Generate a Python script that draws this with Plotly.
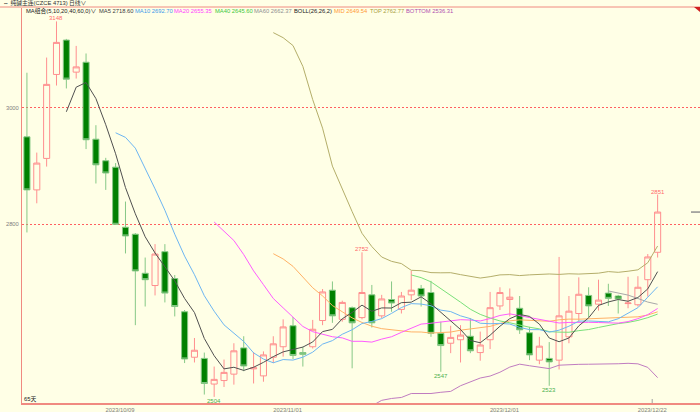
import numpy as np
import pandas as pd
import plotly.graph_objects as go

# ---------------- data ----------------
dates = [
    "2023/09/15", "2023/09/18", "2023/09/19", "2023/09/20", "2023/09/21", "2023/09/22",
    "2023/09/25", "2023/09/26", "2023/09/27", "2023/09/28",
    "2023/10/09", "2023/10/10", "2023/10/11", "2023/10/12", "2023/10/13", "2023/10/16",
    "2023/10/17", "2023/10/18", "2023/10/19", "2023/10/20", "2023/10/23", "2023/10/24",
    "2023/10/25", "2023/10/26", "2023/10/27", "2023/10/30", "2023/10/31",
    "2023/11/01", "2023/11/02", "2023/11/03", "2023/11/06", "2023/11/07", "2023/11/08",
    "2023/11/09", "2023/11/10", "2023/11/13", "2023/11/14", "2023/11/15", "2023/11/16",
    "2023/11/17", "2023/11/20", "2023/11/21", "2023/11/22", "2023/11/23", "2023/11/24",
    "2023/11/27", "2023/11/28", "2023/11/29", "2023/11/30",
    "2023/12/01", "2023/12/04", "2023/12/05", "2023/12/06", "2023/12/07", "2023/12/08",
    "2023/12/11", "2023/12/12", "2023/12/13", "2023/12/14", "2023/12/15", "2023/12/18",
    "2023/12/19", "2023/12/20", "2023/12/21", "2023/12/22",
]
opens = [2950, 2859, 2913, 3057, 3116, 3061, 3078, 2946, 2909, 2898,
         2795, 2783, 2716, 2695, 2753, 2707, 2650, 2572, 2570, 2526,
         2532, 2543, 2588, 2552, 2540, 2572, 2590, 2626, 2580, 2590,
         2635, 2687, 2637, 2657, 2640, 2679, 2643, 2671, 2654, 2679,
         2690, 2683, 2613, 2596, 2602, 2608, 2580, 2602, 2660, 2671,
         2656, 2614, 2567, 2570, 2567, 2607, 2647, 2678, 2663, 2682,
         2677, 2664, 2662, 2705, 2752]
highs = [3060, 2923, 3086, 3148, 3118, 3106, 3093, 2970, 2914, 2905,
         2839, 2785, 2743, 2766, 2766, 2713, 2653, 2605, 2580, 2556,
         2568, 2596, 2608, 2581, 2582, 2608, 2637, 2641, 2590, 2636,
         2689, 2702, 2669, 2659, 2752, 2696, 2679, 2702, 2684, 2720,
         2696, 2703, 2633, 2626, 2627, 2639, 2616, 2684, 2692, 2690,
         2677, 2624, 2607, 2598, 2744, 2677, 2709, 2692, 2705, 2698,
         2679, 2710, 2711, 2749, 2851]
lows = [2786, 2836, 2899, 3038, 3033, 3050, 2929, 2870, 2859, 2799,
        2750, 2627, 2659, 2678, 2666, 2642, 2562, 2563, 2508, 2504,
        2521, 2525, 2548, 2527, 2530, 2562, 2573, 2569, 2556, 2587,
        2627, 2631, 2633, 2553, 2637, 2623, 2639, 2650, 2647, 2670,
        2659, 2607, 2547, 2579, 2563, 2579, 2566, 2586, 2653, 2642,
        2612, 2567, 2560, 2523, 2551, 2596, 2633, 2641, 2652, 2660,
        2647, 2656, 2659, 2676, 2743]
closes = [2859, 2905, 3040, 3112, 3049, 3070, 2945, 2902, 2888, 2800,
          2780, 2720, 2705, 2749, 2682, 2659, 2569, 2584, 2527, 2534,
          2546, 2583, 2557, 2554, 2576, 2595, 2624, 2575, 2577, 2620,
          2684, 2643, 2666, 2631, 2683, 2631, 2672, 2665, 2677, 2687,
          2677, 2613, 2592, 2606, 2610, 2583, 2593, 2657, 2683, 2675,
          2619, 2576, 2591, 2564, 2643, 2651, 2680, 2660, 2670, 2673,
          2672, 2665, 2692, 2744, 2821]

ma_periods = [5, 10, 20, 40, 60]
boll_period = 26
boll_width = 2
tick_dates = ["2023/10/09", "2023/11/01", "2023/12/01", "2023/12/22"]
y_ticks = [2800, 3000]
high_marks = ["2023/09/20", "2023/11/10", "2023/12/22"]
low_marks = ["2023/10/20", "2023/11/22", "2023/12/07"]

legend_labels = ["MA5 2718.60", "MA10 2692.70", "MA20 2655.35", "MA40 2645.60",
                 "MA60 2662.37", "BOLL(26,26,2)", "MID 2649.54", "TOP 2762.77",
                 "BOTTOM 2536.31"]
title_text = "纯碱主连(CZCE 4713)"
period_text = "日线∨"
combo_text = "MA组合(5,10,20,40,60,0)∨"
count_text = "65天"

# ---------------- styles ----------------
BG = "#FFFFE6"
RED = "#FF8F8F"
AXIS_RED = "#F08A80"
GREEN_LINE = "#86C886"
GREEN_FILL = "#008000"
LOW_GREEN = "#4CB04C"
ma_colors = ["#505050", "#6DB6F2", "#FF5CFF", "#7AE07A", "#A8A8A8"]
mid_color = "#FFB266"
top_color = "#B4AE6A"
bot_color = "#C07CC0"
legend_colors = ["#404040", "#3E9BEA", "#FF40FF", "#3CC83C", "#909090",
                 "#202020", "#FF9933", "#A8A040", "#B050B0"]
legend_x = [96.7, 133.3, 171.7, 213.3, 252.3, 292.3, 331.7, 368.3, 404.3]
FONT = "Liberation Sans, Noto Sans CJK SC, sans-serif"
FS = 5.8

W, H = 700, 412
L, R, T, B = 22, 0, 8, 9


def px(x):
    return (x - L) / (W - L - R)


def py(y):
    return (H - B - y) / (H - T - B)


idx = np.arange(len(dates))
pos = {d: i for i, d in enumerate(dates)}
cs = pd.Series(closes, dtype=float)

fig = go.Figure()
fig.add_trace(go.Candlestick(
    x=idx, open=opens, high=highs, low=lows, close=closes,
    increasing=dict(line=dict(color=RED, width=1), fillcolor="rgba(0,0,0,0)"),
    decreasing=dict(line=dict(color=GREEN_LINE, width=1), fillcolor=GREEN_FILL),
    whiskerwidth=0, showlegend=False, hoverinfo="skip",
))

mid = cs.rolling(boll_period).mean()
sd = cs.rolling(boll_period).std(ddof=1)
for series, col in [(mid + boll_width * sd, top_color), (mid - boll_width * sd, bot_color),
                    (mid, mid_color)]:
    fig.add_trace(go.Scatter(x=idx, y=series, mode="lines", line=dict(color=col, width=1),
                             showlegend=False, hoverinfo="skip"))
for p, col in zip(ma_periods[::-1], ma_colors[::-1]):
    fig.add_trace(go.Scatter(x=idx, y=cs.rolling(p).mean(), mode="lines",
                             line=dict(color=col, width=1), showlegend=False, hoverinfo="skip"))

ann = []
for d in high_marks:
    i = pos[d]
    ann.append(dict(x=i, y=highs[i], text=str(int(highs[i])), showarrow=False,
                    yanchor="bottom", yshift=-2, font=dict(size=6, color="#FF6A6A", family=FONT)))
for d in low_marks:
    i = pos[d]
    ann.append(dict(x=i, y=lows[i], text=str(int(lows[i])), showarrow=False,
                    yanchor="top", yshift=1, font=dict(size=6, color=LOW_GREEN, family=FONT)))

# header texts
ann.append(dict(xref="paper", yref="paper", x=px(1), y=py(3.2), xanchor="left", yanchor="middle",
                text="⇔ " + title_text, showarrow=False, font=dict(size=FS, color="#303030", family=FONT)))
ann.append(dict(xref="paper", yref="paper", x=px(67), y=py(3.2), xanchor="left", yanchor="middle",
                text=period_text, showarrow=False, font=dict(size=FS, color="#303030", family=FONT)))
ann.append(dict(xref="paper", yref="paper", x=px(24), y=py(10.8), xanchor="left", yanchor="middle",
                text=combo_text, showarrow=False, font=dict(size=FS, color="#202020", family=FONT)))
for t, c, xx in zip(legend_labels, legend_colors, legend_x):
    ann.append(dict(xref="paper", yref="paper", x=px(xx), y=py(10.8), xanchor="left", yanchor="middle",
                    text=t, showarrow=False, font=dict(size=FS, color=c, family=FONT)))
ann.append(dict(xref="paper", yref="paper", x=px(22), y=py(399), xanchor="left", yanchor="middle",
                text=count_text, showarrow=False, font=dict(size=FS, color="#202020", family=FONT)))

shapes = [
    dict(type="line", xref="paper", yref="paper", x0=px(0), x1=px(700), y0=py(7), y1=py(7),
         line=dict(color=AXIS_RED, width=1)),
    dict(type="line", xref="paper", yref="y", x0=px(691), x1=px(700), y0=closes[-1], y1=closes[-1],
         line=dict(color="#909090", width=1.5)),
    dict(type="path", xref="paper", yref="paper",
         path=f"M {px(694)} {py(7)} L {px(700)} {py(7)} L {px(700)} {py(12)} Z",
         fillcolor="#D02020", line=dict(width=0)),
    dict(type="line", xref="x", yref="paper", x0=pos[tick_dates[-1]] - 0.55,
         x1=pos[tick_dates[-1]] - 0.55, y0=0, y1=py(399), line=dict(color="#A0A0A0", width=1)),
]

tickvals = [pos[d] - 0.55 for d in tick_dates]

fig.update_layout(
    width=W, height=H,
    margin=dict(l=L, r=R, t=T, b=B, pad=0),
    paper_bgcolor=BG, plot_bgcolor=BG,
    boxgap=0.12,
    showlegend=False,
    annotations=ann,
    shapes=shapes,
    xaxis=dict(range=[-0.5, 68.3], showgrid=False, zeroline=False, showline=True,
               linecolor=AXIS_RED, linewidth=1.5, tickmode="array", tickvals=tickvals,
               ticktext=tick_dates, ticks="", tickfont=dict(size=FS, color="#808080", family=FONT),
               rangeslider=dict(visible=False), automargin=False, fixedrange=True),
    yaxis=dict(range=[2493.5, 3171], showgrid=True, gridcolor="#FF6060", griddash="2px,2px",
               gridwidth=1, zeroline=False, showline=True, linecolor=AXIS_RED, linewidth=1,
               tickmode="array", tickvals=y_ticks, ticktext=[str(v) for v in y_ticks], ticks="",
               tickfont=dict(size=FS, color="#808080", family=FONT), automargin=False,
               fixedrange=True, ticklabelstandoff=1),
)

fig.write_html(
    "out.html",
    config={"displayModeBar": False},
    post_script="document.body.style.margin='0';document.body.style.overflow='hidden';",
)
